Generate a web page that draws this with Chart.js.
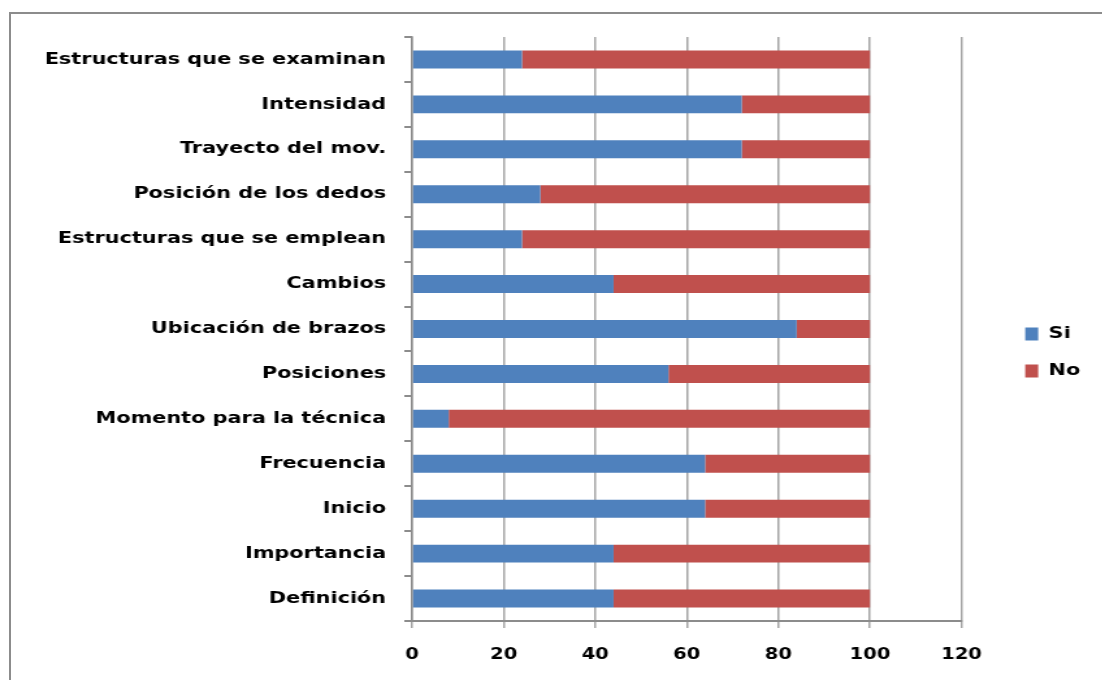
<!DOCTYPE html>
<html>
<head>
<meta charset="utf-8">
<script src="https://cdn.jsdelivr.net/npm/chart.js@4.4.1/dist/chart.umd.min.js"></script>
<style>
    html, body { margin: 0; padding: 0; background: #fff; overflow: hidden; }
    #wrap { position: relative; width: 1102px; height: 680px; overflow: hidden; }
    #frame {
        position: absolute; left: 9px; top: 12px; width: 1200px; height: 800px;
        border: 2px solid #8c8c8c; box-sizing: border-box;
    }
    /* the source picture is stretched sideways, so the canvas is too */
    #chart { position: absolute; left: 0; top: 0; transform: scaleX(1.3); transform-origin: 0 0; }
</style>
</head>
<body>
<div id="wrap">
    <div id="frame"></div>
    <canvas id="chart" width="848" height="680"></canvas>
</div>
<script>
const categories = [
    'Estructuras que se examinan',
    'Intensidad',
    'Trayecto del mov.',
    'Posición de los dedos',
    'Estructuras que se emplean',
    'Cambios',
    'Ubicación de brazos',
    'Posiciones',
    'Momento para la técnica',
    'Frecuencia',
    'Inicio',
    'Importancia',
    'Definición',
];
const siValues = [24, 72, 72, 28, 24, 44, 84, 56, 8, 64, 64, 44, 44];
const noValues = [76, 28, 28, 72, 76, 56, 16, 44, 92, 36, 36, 56, 56];
const xMax = 120;
const xStep = 20;

const FONT = 'DejaVu Sans';
const labelFont = { family: FONT, size: 16, weight: 'bold' };
const tickFont = { family: FONT, size: 15, weight: 'bold' };
const axisColor = '#8c8c8c';

new Chart(document.getElementById('chart'), {
    type: 'bar',
    data: {
        labels: categories,
        datasets: [
            {
                label: 'Si',
                data: siValues,
                backgroundColor: '#4f81bd',
                barPercentage: 0.4,
                categoryPercentage: 1,
            },
            {
                label: 'No',
                data: noValues,
                backgroundColor: '#c0504d',
                barPercentage: 0.4,
                categoryPercentage: 1,
            },
        ],
    },
    options: {
        indexAxis: 'y',
        responsive: false,
        animation: false,
        layout: {
            padding: { top: 37, left: 0, right: 7, bottom: 12 },
        },
        scales: {
            x: {
                stacked: true,
                min: 0,
                max: xMax,
                ticks: {
                    stepSize: xStep,
                    color: '#000',
                    font: tickFont,
                    padding: 18,
                },
                grid: {
                    color: '#a5a5a5',
                    lineWidth: 1.5,
                    tickLength: 7,
                },
                border: { color: axisColor, width: 2 },
                afterFit: (scale) => { scale.height = 47; },
            },
            y: {
                stacked: true,
                ticks: {
                    color: '#000',
                    font: labelFont,
                    padding: 14,
                },
                grid: {
                    drawOnChartArea: false,
                    color: axisColor,
                    lineWidth: 2,
                    tickLength: 6,
                },
                border: { color: axisColor, width: 1.5 },
                afterFit: (scale) => { scale.width = 317; },
            },
            gap: {
                type: 'linear',
                axis: 'y',
                position: 'right',
                grid: { display: false },
                ticks: { display: false },
                border: { display: false },
                afterFit: (scale) => { scale.width = 28; },
            },
        },
        plugins: {
            legend: {
                position: 'right',
                labels: {
                    boxWidth: 10,
                    boxHeight: 13,
                    padding: 21,
                    color: '#000',
                    font: labelFont,
                },
            },
            tooltip: { enabled: false },
        },
    },
});
</script>
</body>
</html>
